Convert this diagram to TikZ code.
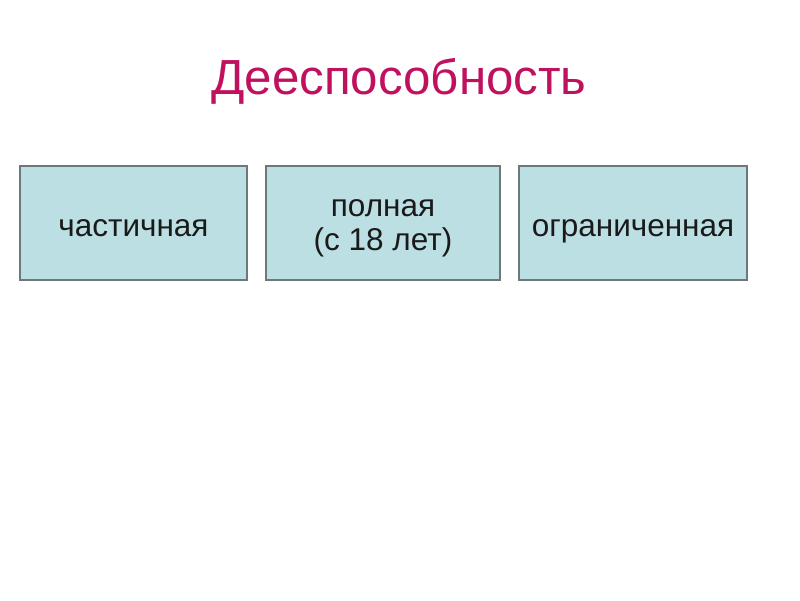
\documentclass[tikz,border=0pt]{standalone}
\usepackage{fontspec}
\setmainfont{Liberation Sans}
\definecolor{titlered}{HTML}{C0115F}
\definecolor{boxfill}{HTML}{BCDFE3}
\definecolor{boxline}{HTML}{6E7878}
\definecolor{boxtext}{HTML}{1A1A1A}
\begin{document}
\begin{tikzpicture}[x=1pt,y=-1pt,
  box_node/.style={rectangle,fill=boxfill,draw=boxline,line width=1.2pt,minimum height=114pt,inner sep=0pt},
  box_text/.style={align=center,inner sep=0pt,anchor=base,text=boxtext,font=\fontsize{31.5}{34}\selectfont}]

		\useasboundingbox (0,0) rectangle (800,600);

		\node[text=titlered,font=\fontsize{49.3}{49}\selectfont,anchor=base] (title) at (399,94) {Дееспособность};

		\node[box_node,minimum width=227pt] (partial) at (133.5,223) {};
		\node[box_node,minimum width=234pt] (full) at (383,223) {};
		\node[box_node,minimum width=228pt] (limited) at (633,223) {};

		\node[box_text] (partial_text) at ([yshift=-13pt]partial.center) {частичная};
		\node[box_text] (full_text) at ([yshift=-27pt]full.center) {полная\\(с 18 лет)};
		\node[box_text] (limited_text) at ([yshift=-13pt]limited.center) {ограниченная};
		\end{tikzpicture}
\end{document}
